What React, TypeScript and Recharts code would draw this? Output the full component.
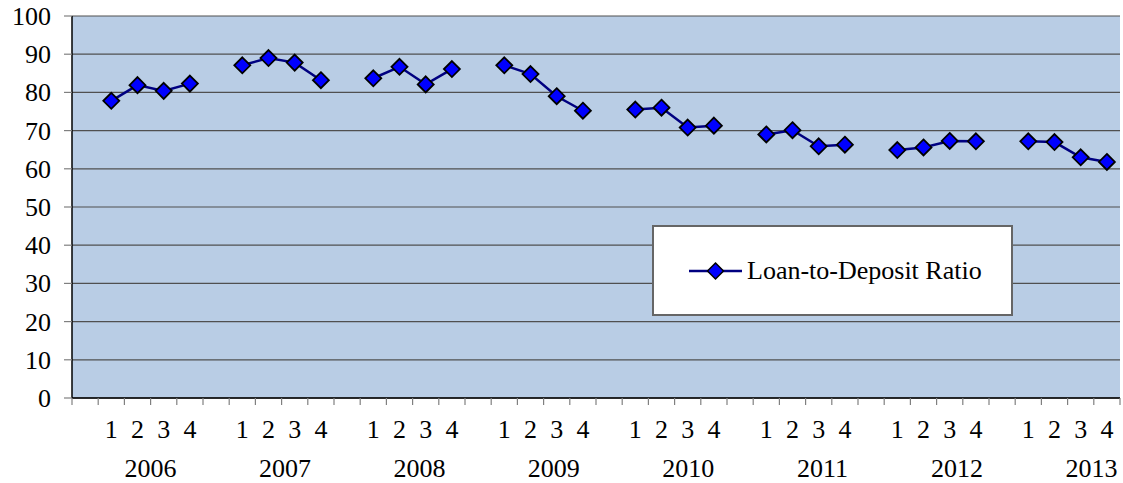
import { LineChart, Line, XAxis, YAxis, CartesianGrid, Legend } from "recharts";

const years = ["2006", "2007", "2008", "2009", "2010", "2011", "2012", "2013"];
const quarters = ["1", "2", "3", "4"];

const ratio2006 = [77.8, 81.9, 80.4, 82.3];
const ratio2007 = [87.1, 89.0, 87.8, 83.2];
const ratio2008 = [83.7, 86.7, 82.1, 86.1];
const ratio2009 = [87.1, 84.8, 79.0, 75.2];
const ratio2010 = [75.5, 76.0, 70.8, 71.3];
const ratio2011 = [69.0, 70.1, 65.9, 66.3];
const ratio2012 = [64.9, 65.6, 67.3, 67.2];
const ratio2013 = [67.2, 67.0, 63.0, 61.8];
const ratioByYear = [ratio2006, ratio2007, ratio2008, ratio2009, ratio2010, ratio2011, ratio2012, ratio2013];

const yTicks = [0, 10, 20, 30, 40, 50, 60, 70, 80, 90, 100];

// each year gets an empty slot before its four quarters, like the original sheet
const data: any[] = [];
years.forEach((year, yi) => {
  data.push({ key: `${year}-gap`, year, quarter: "", ratio: null, yearIndex: yi });
  quarters.forEach((q, qi) => {
    data.push({ key: `${year}-${q}`, year, quarter: q, ratio: ratioByYear[yi][qi], yearIndex: yi });
  });
});

const W = 1123;
const H = 483;
const M = { top: 16, right: 3, bottom: 0, left: 12 };
const Y_AXIS_W = 60;
const X_AXIS_H = 85;
const PLOT_LEFT = M.left + Y_AXIS_W;
const PLOT_W = W - PLOT_LEFT - M.right;
const AXIS_Y = H - X_AXIS_H;
const FONT = "'Liberation Serif', 'Times New Roman', serif";
const textStyle = { fontFamily: FONT, fontSize: 26, fill: "#000" };

const QuarterTick = (props: any) => {
  const { x, index } = props;
  const band = PLOT_W / data.length;
  const row = data[index];
  if (!row) return <g />;
  const left = x - band / 2;
  return (
    <g>
      <line x1={left} y1={AXIS_Y} x2={left} y2={AXIS_Y + 7} stroke="#808080" strokeWidth={1.2} />
      {index === data.length - 1 && (
        <line x1={x + band / 2} y1={AXIS_Y} x2={x + band / 2} y2={AXIS_Y + 7} stroke="#808080" strokeWidth={1.2} />
      )}
      {row.quarter && (
        <text x={x} y={AXIS_Y + 40} textAnchor="middle" style={textStyle}>
          {row.quarter}
        </text>
      )}
      {row.quarter === "2" && (
        <text x={x + band / 2 + row.yearIndex * 3.4} y={AXIS_Y + 79} textAnchor="middle" style={textStyle}>
          {row.year}
        </text>
      )}
    </g>
  );
};

const ValueTick = (props: any) => {
  const { x, y, payload } = props;
  return (
    <text x={x + 1} y={y} dy={9} textAnchor="end" style={textStyle}>
      {payload.value}
    </text>
  );
};

const Diamond = (props: any) => {
  const { cx, cy, index } = props;
  if (cx == null || cy == null || props.value == null) return <g key={`d-${index}`} />;
  const r = 8;
  return (
    <polygon
      key={`d-${index}`}
      points={`${cx},${cy - r} ${cx + r},${cy} ${cx},${cy + r} ${cx - r},${cy}`}
      fill="#0000FF"
      stroke="#000"
      strokeWidth={1.8}
    />
  );
};

const LegendBox = () => (
  <div
    style={{
      boxSizing: "border-box",
      width: 361,
      height: 91,
      border: "2px solid #666",
      background: "#fff",
      display: "flex",
      alignItems: "center",
      paddingLeft: 34,
      fontFamily: FONT,
      fontSize: 26,
      color: "#000",
    }}
  >
    <svg width={56} height={20} style={{ marginRight: 3 }}>
      <line x1={1} y1={10} x2={54} y2={10} stroke="#000080" strokeWidth={2.5} />
      <polygon points="27.5,2 35.5,10 27.5,18 19.5,10" fill="#0000FF" stroke="#000" strokeWidth={1.5} />
    </svg>
    <span>Loan-to-Deposit Ratio</span>
  </div>
);

export default function App() {
  return (
    <div style={{ position: "absolute", left: 0, top: 0, background: "#fff" }}>
      <LineChart width={W} height={H} data={data} margin={M}>
        <CartesianGrid vertical={false} stroke="#505050" strokeWidth={1.2} fill="#B9CDE5" fillOpacity={1} />
        <XAxis
          dataKey="key"
          type="category"
          scale="band"
          interval={0}
          height={X_AXIS_H}
          axisLine={{ stroke: "#000", strokeWidth: 1.5 }}
          tickLine={false}
          tick={<QuarterTick />}
        />
        <YAxis
          domain={[0, 100]}
          ticks={yTicks}
          width={Y_AXIS_W}
          interval={0}
          axisLine={{ stroke: "#000", strokeWidth: 1.5 }}
          tickLine={{ stroke: "#808080", strokeWidth: 1.2 }}
          tickSize={8}
          tickMargin={14}
          tick={<ValueTick />}
        />
        <Legend
          layout="horizontal"
          verticalAlign="middle"
          align="center"
          content={() => <LegendBox />}
          wrapperStyle={{ left: 652, top: 225, width: 361, height: 91 }}
        />
        <Line
          type="linear"
          dataKey="ratio"
          name="Loan-to-Deposit Ratio"
          stroke="#000080"
          strokeWidth={2.5}
          dot={(p: any) => <Diamond {...p} />}
          activeDot={false}
          connectNulls={false}
          isAnimationActive={false}
        />
      </LineChart>
    </div>
  );
}
